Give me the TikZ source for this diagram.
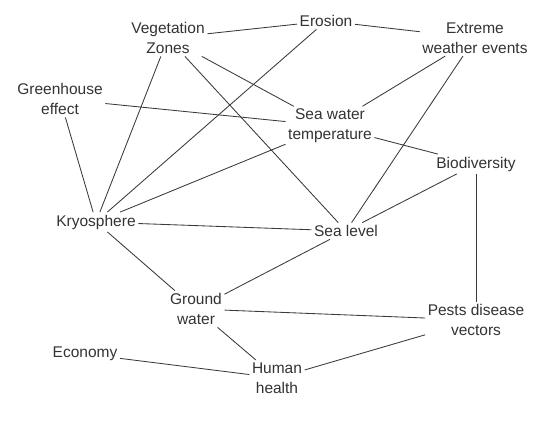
\documentclass[tikz,border=0pt]{standalone}
\usepackage{fontspec}
\setmainfont{Liberation Sans}
\definecolor{ink}{HTML}{333333}
\definecolor{wire}{HTML}{3A3A3A}
\begin{document}
\begin{tikzpicture}[x=1pt,y=-1pt,
  concept/.style={font=\fontsize{15.5}{20}\selectfont, text=ink, align=center, inner sep=2.5pt},
  link/.style={draw=wire, line width=0.85pt}]
\useasboundingbox[fill=white] (0,0) rectangle (542,421);

% concepts
\node[concept] (veg)  at (168,38)  {Vegetation\\Zones};
\node[concept] (ero)  at (326,21)  {Erosion};
\node[concept] (ext)  at (475,38)  {Extreme\\weather events};
\node[concept] (gh)   at (60,99)   {Greenhouse\\effect};
\node[concept] (swt)  at (330,126) {Sea water\\temperature};
\node[concept] (bio)  at (476,164) {Biodiversity};
\node[concept] (kry)  at (96,222)  {Kryosphere};
\node[concept] (sl)   at (346,231) {Sea level};
\node[concept] (gw)   at (196,309) {Ground\\water};
\node[concept] (pest) at (476,320) {Pests disease\\vectors};
\node[concept] (eco)  at (85,354)  {Economy};
\node[concept] (hum)  at (277,378) {Human\\health};

% relations
\draw[link] (veg) -- (ero);
\draw[link] (ero) -- (ext);
\draw[link] (ero) -- (kry);
\draw[link] (veg) -- (kry);
\draw[link] (veg) -- (sl);
\draw[link] (veg) -- (swt);
\draw[link] (gh) -- (swt);
\draw[link] (gh) -- (kry);
\draw[link] (ext) -- (swt);
\draw[link] (ext) -- (sl);
\draw[link] (swt) -- (bio);
\draw[link] (swt) -- (kry);
\draw[link] (bio) -- (sl);
\draw[link] (bio) -- (pest);
\draw[link] (kry) -- (sl);
\draw[link] (kry) -- (gw);
\draw[link] (gw) -- (sl);
\draw[link] (gw) -- (pest);
\draw[link] (gw) -- (hum);
\draw[link] (eco) -- (hum);
\draw[link] (hum) -- (pest);
\end{tikzpicture}
\end{document}
